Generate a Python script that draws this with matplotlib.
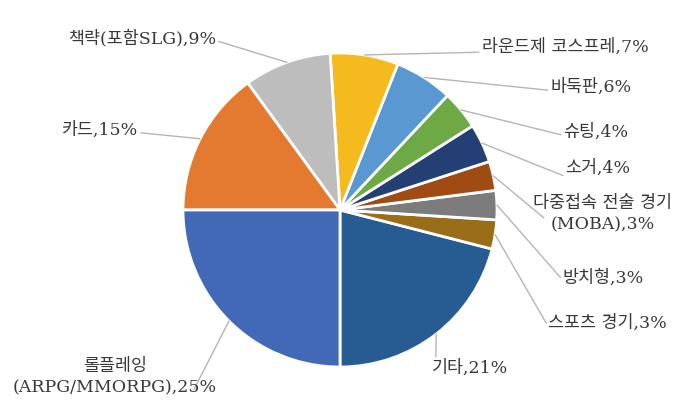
import matplotlib
matplotlib.use('Agg')
import matplotlib.pyplot as plt
import numpy as np

# slices, counterclockwise from 6 o'clock
labels = ['기타', '스포츠 경기', '방치형', '다중접속 전술 경기\n(MOBA)', '소거', '슈팅',
          '바둑판', '라운드제 코스프레', '책략(포함SLG)', '카드', '롤플레잉\n(ARPG/MMORPG)']
shares = [21, 3, 3, 3, 4, 4, 6, 7, 9, 15, 25]
colors = ['#265C91', '#9A6D19', '#7C7C7C', '#A04A14', '#233F74', '#6DAA45',
          '#5A98D2', '#F5BA1E', '#BDBDBD', '#E37A30', '#4268B8']

# label centres in pixels (y from top), and where the leader line meets the text
label_pos = [(470, 368), (607, 323), (603, 278), (603, 214), (598, 168), (596, 132),
             (591, 87), (565, 47), (142, 38), (100, 130), (115, 377)]
line_rel = [(0.05, 1.0), (0.0, 0.35), (0.0, 0.4), (0.09, 0.35), (0.0, 0.0), (0.0, 0.3),
            (0.0, 0.3), (0.0, 0.2), (1.0, 0.35), (1.0, 0.35), (0.88, 0.1)]

W, H = 685, 405
cx, cy, r = 340, H - 210, 157

fig = plt.figure(figsize=(W / 100, H / 100), dpi=100)
ax = fig.add_axes([0, 0, 1, 1])

wedges, _ = ax.pie(shares, colors=colors, startangle=270, counterclock=True,
                   center=(cx, cy), radius=r,
                   wedgeprops=dict(edgecolor='white', linewidth=2))

font = ['DejaVu Serif', 'Noto Sans CJK KR']
for w, lab, val, (tx, ty), rel in zip(wedges, labels, shares, label_pos, line_rel):
    mid = np.deg2rad((w.theta1 + w.theta2) / 2)
    px, py = cx + r * np.cos(mid), cy + r * np.sin(mid)
    ax.annotate(f'{lab},{val}%', xy=(px, py), xytext=(tx, H - ty),
                ha='center', va='center', multialignment='center',
                fontsize=12.5, family=font, color='#383838', linespacing=1.3,
                arrowprops=dict(arrowstyle='-', color='#B5B5B5', lw=1,
                                relpos=rel, shrinkA=2, shrinkB=0, patchA=None))

ax.set_xlim(0, W)
ax.set_ylim(0, H)
ax.set_aspect('equal')
ax.axis('off')
fig.savefig('out.png', dpi=100, facecolor='white')
